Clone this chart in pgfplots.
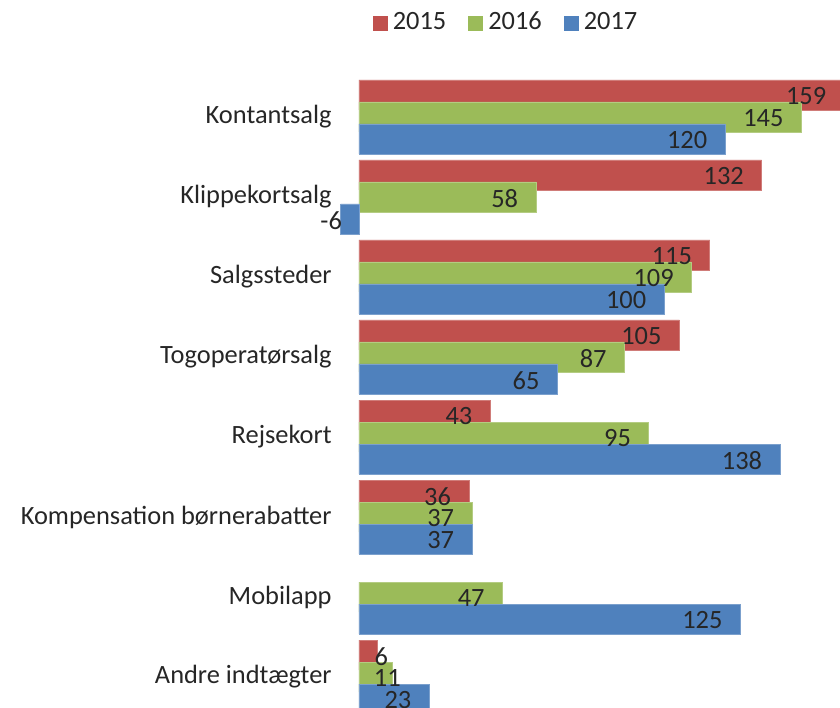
\documentclass[border=0pt]{standalone}
\usepackage{pgfplots}
\pgfplotsset{compat=1.18}
\usepackage{pgfplotstable}
\usepackage{fontspec}
\setmainfont{Carlito}
\definecolor{cR}{HTML}{C0504D}
\definecolor{cG}{HTML}{9BBB59}
\definecolor{cB}{HTML}{4F81BD}
\definecolor{txt}{HTML}{262626}
% y = category position (7 = top), x = value, lab = label, dx = label shift in px
\pgfplotstableread{
y x lab dx
7 159 159 -17.5
6 132 132 -17.5
5 115 115 -17.5
4 105 105 -17.5
3 43 43 -17.5
2 36 36 -17.5
0 6 6 11
}\tabA
\pgfplotstableread{
y x lab dx
7 145 145 -17.5
6 58 58 -17.5
5 109 109 -17.5
4 87 87 -17.5
3 95 95 -17.5
2 37 37 -17.5
1 47 47 -17.5
0 11 11 8.5
}\tabB
\pgfplotstableread{
y x lab dx
7 120 120 -17.5
6 -6 -6 1.5
5 100 100 -17.5
4 65 65 -17.5
3 138 138 -17.5
2 37 37 -17.5
1 125 125 -17.5
0 23 23 -17.5
}\tabC
\begin{document}
\fontsize{13.2pt}{15pt}\selectfont
\begin{tikzpicture}
\begin{axis}[
  x=1.525pt, y=40pt,
  xmin=-8.85, xmax=160,
  ymin=-0.6, ymax=7.6,
  xbar, bar width=15pt,
  axis line style={draw=none},
  major tick length=0pt,
  xtick=\empty,
  ytick={0,...,7},
  yticklabels={Andre indtægter, Mobilapp, Kompensation børnerabatter, Rejsekort, Togoperatørsalg, Salgssteder, Klippekortsalg, Kontantsalg},
  yticklabel style={anchor=east, inner sep=0pt, text=txt, font=\fontsize{13.2pt}{15pt}\selectfont},
  point meta=explicit symbolic,
  nodes near coords={\pgfplotspointmeta},
  visualization depends on={\thisrow{dx} \as \dx},
  every node near coord/.append style={anchor=east, inner sep=0pt, xshift=0.5*\dx pt, yshift=-0.6pt, text=txt, font=\fontsize{13.2pt}{15pt}\selectfont},
  legend columns=3,
  legend style={draw=none, fill=none, at={(0.336,1.07)}, anchor=center,
    font=\fontsize{13.2pt}{15pt}\selectfont, text=txt,
    nodes={inner sep=0pt},
    /tikz/every odd column/.append style={column sep=2.5pt},
    /tikz/every even column/.append style={column sep=11pt}},
  legend image code/.code={\fill[#1,draw=none] (0pt,-3.75pt) rectangle (7.5pt,3.75pt);},
]
\addplot[fill=cR, draw=cR!75!white, line width=0.3pt, bar shift=11pt] table[x=x, y=y, meta=lab] {\tabA};
\addlegendentry{2015}
\addplot[fill=cG, draw=cG!75!white, line width=0.3pt, bar shift=0pt] table[x=x, y=y, meta=lab] {\tabB};
\addlegendentry{2016}
\addplot[fill=cB, draw=cB!75!white, line width=0.3pt, bar shift=-11pt] table[x=x, y=y, meta=lab] {\tabC};
\addlegendentry{2017}
\coordinate (bl) at (axis cs:-117.7,-0.375);
\coordinate (tr) at (axis cs:157.7,8.4625);
\end{axis}
\pgfresetboundingbox
\useasboundingbox (bl) rectangle (tr);
\end{tikzpicture}
\end{document}
